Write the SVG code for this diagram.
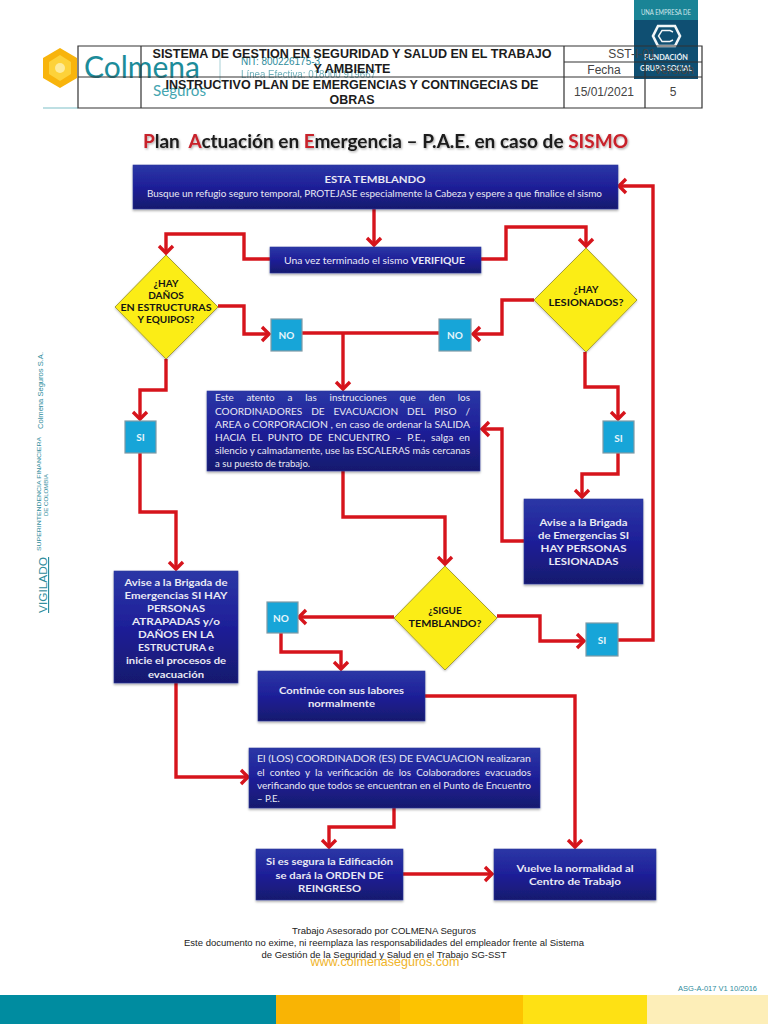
<svg xmlns="http://www.w3.org/2000/svg" width="768" height="1024" viewBox="0 0 768 1024">
<style>
text{font-family:"Lato","Liberation Sans",sans-serif}
.b{fill:url(#blue);stroke:#2b3a9c;stroke-width:.6;filter:url(#sh)}
.d{fill:#fbed12;stroke:#a8a030;stroke-width:1;filter:url(#sh2)}
.s{fill:#17a5d8;stroke:#7f9aa6;stroke-width:1.2}
.w{fill:#e9e9f4;font-size:9.6px}
.wb{fill:#e9e9f4;font-size:10px;font-weight:700;text-anchor:middle}
.k{fill:#141414;font-size:10px;font-weight:700;text-anchor:middle}
.n{fill:#e6f5fb;font-size:10px;font-weight:700;text-anchor:middle}
.c{fill:none;stroke:#d6141c;stroke-width:3.4;stroke-linejoin:miter}
.a{marker-end:url(#ah)}
.h{font-family:"Liberation Sans",sans-serif;font-weight:700;font-size:12.5px;fill:#1c1c1c;text-anchor:middle}
.l{fill:none;stroke:#333;stroke-width:1.2}
.m{font-family:"Liberation Sans",sans-serif;font-size:12px;fill:#444;text-anchor:middle}
.f{font-family:"Liberation Sans",sans-serif;font-size:9.4px;fill:#222;text-anchor:middle}
.v{font-family:"Liberation Sans",sans-serif;fill:#2e8c9c}
</style>
<defs>
<linearGradient id="blue" x1="0" y1="0" x2="0" y2="1"><stop offset="0" stop-color="#2b37a6"/><stop offset=".5" stop-color="#1e1f98"/><stop offset="1" stop-color="#17196e"/></linearGradient>
<filter id="sh" x="-5%" y="-10%" width="110%" height="125%"><feDropShadow dx="0" dy="1.5" stdDeviation="1.2" flood-color="#000" flood-opacity=".35"/></filter>
<filter id="sh2" x="-5%" y="-5%" width="110%" height="112%"><feDropShadow dx="0" dy="1" stdDeviation="1" flood-color="#000" flood-opacity=".25"/></filter>
<filter id="ts" x="-3%" y="-30%" width="106%" height="170%"><feDropShadow dx="1" dy="1.2" stdDeviation=".8" flood-color="#000" flood-opacity=".35"/></filter>
<marker id="ah" markerUnits="userSpaceOnUse" markerWidth="22" markerHeight="22" viewBox="-11 -11 22 22" refX="0" refY="0" orient="auto"><path d="M-7,-7 L0,0 L-7,7" fill="none" stroke="#d6141c" stroke-width="3.4"/></marker>
</defs>

<rect width="768" height="1024" fill="#fff"/>

<g id="badge">
<rect x="634" y="0" width="64" height="79" fill="#0f4f72"/>
<rect x="634" y="0" width="64" height="20" fill="#1a8496"/>
<text x="666" y="15" text-anchor="middle" font-size="7" fill="#cfe8ec" textLength="50" lengthAdjust="spacingAndGlyphs">UNA EMPRESA DE</text>
<path d="M658,26 L675,26 L680,36 L675,46 L658,46 L653,36 Z" fill="none" stroke="#f2f6f8" stroke-width="2.6"/>
<path d="M673,32 L670,30.500 L662,30.500 L658.500,36 L662,41.500 L670,41.500 L673,40" fill="none" stroke="#f2f6f8" stroke-width="1.4"/>
<text x="666" y="60" text-anchor="middle" font-size="7.5" font-weight="700" fill="#e8f0f4" textLength="44" lengthAdjust="spacingAndGlyphs">FUNDACIÓN</text>
<text x="666" y="71" text-anchor="middle" font-size="7.5" font-weight="700" fill="#e8f0f4" textLength="52" lengthAdjust="spacingAndGlyphs">GRUPO SOCIAL</text>
</g>

<g id="logo">
<path d="M60,48 L77,58 L77,78 L60,88 L43,78 L43,58 Z" fill="#f8b40c"/>
<path d="M60,55 L71,62 L71,74 L60,81 L49,74 L49,62 Z" fill="#fdd23a"/>
<circle cx="60" cy="68" r="5" fill="#fdeb9c"/>
<text x="84" y="78" font-size="30" fill="#1c8c9a" font-family="Lato,sans-serif" textLength="116" lengthAdjust="spacingAndGlyphs">Colmena</text>
<text x="153" y="96" font-size="16" fill="#45a5b0" textLength="53" lengthAdjust="spacingAndGlyphs">Seguros</text>
<path d="M43,108H78" stroke="#a8d4da" stroke-width="1.5"/>
<path d="M220,55V90" stroke="#a8d0d6" stroke-width="1"/>
<text x="241" y="65" class="v" font-size="10" textLength="79" lengthAdjust="spacingAndGlyphs">NIT: 800226175-3</text>
<text x="241" y="78" class="v" font-size="10" opacity=".7" textLength="135" lengthAdjust="spacingAndGlyphs">Línea Efectiva: 018000 919667</text>
</g>

<g id="header-table">
<path class="l" d="M78,46H702V108H78ZM141,46V108M564,46V108M645,62V108M564,62H702M78,77H702"/>
<text class="h" x="352" y="58" textLength="399" lengthAdjust="spacingAndGlyphs">SISTEMA DE GESTION EN SEGURIDAD Y SALUD EN EL TRABAJO</text>
<text class="h" x="352" y="73" textLength="77" lengthAdjust="spacingAndGlyphs">Y AMBIENTE</text>
<text class="h" x="352" y="89" textLength="373" lengthAdjust="spacingAndGlyphs">INSTRUCTIVO PLAN DE EMERGENCIAS Y CONTINGECIAS DE</text>
<text class="h" x="352" y="104" textLength="45" lengthAdjust="spacingAndGlyphs">OBRAS</text>
<text class="m" x="632" y="58">SST-I-01</text>
<text class="m" x="604" y="74">Fecha</text>
<text class="m" x="674" y="74" fill="#ddd">Versión</text>
<text class="m" x="604" y="96">15/01/2021</text>
<text class="m" x="673" y="96">5</text>
</g>

<g id="title" filter="url(#ts)">
<text x="143" y="148" font-size="18" font-weight="700" fill="#1a1a1a" textLength="485" lengthAdjust="spacingAndGlyphs" xml:space="preserve"><tspan fill="#c8202a">P</tspan>lan  <tspan fill="#c8202a">A</tspan>ctuación en <tspan fill="#c8202a">E</tspan>mergencia – P.A.E. en caso de <tspan fill="#c8202a">SISMO</tspan></text>
</g>

<g id="side-text">
<text class="v" font-size="7.5" transform="translate(43,429) rotate(-90)" textLength="77" lengthAdjust="spacingAndGlyphs">Colmena  Seguros  S.A.</text>
<text class="v" font-size="6.2" transform="translate(41,551) rotate(-90)" textLength="114" lengthAdjust="spacingAndGlyphs">SUPERINTENDENCIA FINANCIERA</text>
<text class="v" font-size="6.2" transform="translate(48,516) rotate(-90)" textLength="42" lengthAdjust="spacingAndGlyphs">DE COLOMBIA</text>
<text class="v" font-size="11.5" text-decoration="underline" transform="translate(47,613) rotate(-90)" textLength="56" lengthAdjust="spacingAndGlyphs">VIGILADO</text>
</g>

<g id="connectors">
<path class="c a" d="M374,209V245"/>
<path class="c a" d="M270,259H244V234H166V253"/>
<path class="c a" d="M480,259H506V227H586V246"/>
<path class="c a" d="M218,306H244V334H269"/>
<path class="c" d="M302,333H439"/>
<path class="c a" d="M343,333V389"/>
<path class="c a" d="M534,300H502V334H473"/>
<path class="c a" d="M166,359V390H140V419"/>
<path class="c a" d="M585,352V387H618V419"/>
<path class="c a" d="M618,453V474H582V497"/>
<path class="c a" d="M524,541H502V429H482"/>
<path class="c a" d="M140,453V512H176V569"/>
<path class="c a" d="M343,471V517H445V564"/>
<path class="c a" d="M394,617H299"/>
<path class="c a" d="M497,616H540V641H584"/>
<path class="c a" d="M618,640H653V186H619"/>
<path class="c a" d="M281,633V652H341V669"/>
<path class="c a" d="M425,696H575V847"/>
<path class="c a" d="M176,683V777H248"/>
<path class="c a" d="M394,808V827H329V847"/>
<path class="c a" d="M403,874H492"/>
</g>

<g id="n-temblando">
<rect class="b" x="133" y="165" width="485" height="44"/>
<text class="wb" x="375" y="183" textLength="101" lengthAdjust="spacingAndGlyphs">ESTA TEMBLANDO</text>
<text class="w" x="147" y="197" textLength="455" lengthAdjust="spacingAndGlyphs">Busque un refugio seguro temporal, PROTEJASE especialmente la Cabeza  y espere a que finalice el sismo</text>
</g>
<g id="n-verifique">
<rect class="b" x="270" y="247" width="211" height="26"/>
<text class="w" x="284" y="264" textLength="181" lengthAdjust="spacingAndGlyphs">Una vez terminado el sismo <tspan font-weight="700">VERIFIQUE</tspan></text>
</g>
<g id="d-danos">
<polygon class="d" points="166,255 218,307 166,359 115,307"/>
<text class="k" x="166" y="287">¿HAY</text>
<text class="k" x="166" y="299">DAÑOS</text>
<text class="k" x="166" y="311" textLength="91" lengthAdjust="spacingAndGlyphs">EN ESTRUCTURAS</text>
<text class="k" x="166" y="323">Y EQUIPOS?</text>
</g>
<g id="d-lesionados">
<polygon class="d" points="586,248 637,300 586,352 534,300"/>
<text class="k" x="586" y="293">¿HAY</text>
<text class="k" x="586" y="306" textLength="75" lengthAdjust="spacingAndGlyphs">LESIONADOS?</text>
</g>
<g id="n-no1"><rect class="s" x="271" y="319" width="31" height="32"/><text class="n" x="286.500" y="339">NO</text></g>
<g id="n-no2"><rect class="s" x="439" y="319" width="32" height="32"/><text class="n" x="455" y="339">NO</text></g>
<g id="n-si1"><rect class="s" x="125" y="421" width="31" height="32"/><text class="n" x="140.500" y="441">SI</text></g>
<g id="n-si2"><rect class="s" x="603" y="421" width="31" height="32"/><text class="n" x="618.500" y="442">SI</text></g>
<g id="n-instrucciones">
<rect class="b" x="207" y="391" width="273" height="80"/>
<text class="w" x="215" y="401" word-spacing="10" textLength="255" lengthAdjust="spacingAndGlyphs">Este atento a las instrucciones que den los</text>
<text class="w" x="215" y="415" word-spacing="6" textLength="255" lengthAdjust="spacingAndGlyphs">COORDINADORES DE EVACUACION DEL PISO /</text>
<text class="w" x="215" y="428" textLength="255" lengthAdjust="spacingAndGlyphs">AREA o CORPORACION , en caso de ordenar la SALIDA</text>
<text class="w" x="215" y="441" word-spacing="3" textLength="255" lengthAdjust="spacingAndGlyphs">HACIA EL PUNTO DE ENCUENTRO – P.E., salga en</text>
<text class="w" x="215" y="454" textLength="255" lengthAdjust="spacingAndGlyphs">silencio y calmadamente, use las ESCALERAS más cercanas</text>
<text class="w" x="215" y="467">a su puesto de trabajo.</text>
</g>
<g id="n-brigada-der">
<rect class="b" x="524" y="499" width="119" height="85"/>
<text class="wb" x="583.500" y="526" textLength="88" lengthAdjust="spacingAndGlyphs">Avise a la Brigada</text>
<text class="wb" x="583.500" y="539" textLength="91" lengthAdjust="spacingAndGlyphs">de Emergencias SI</text>
<text class="wb" x="583.500" y="552" textLength="86" lengthAdjust="spacingAndGlyphs">HAY PERSONAS</text>
<text class="wb" x="583.500" y="565" textLength="70" lengthAdjust="spacingAndGlyphs">LESIONADAS</text>
</g>
<g id="n-brigada-izq">
<rect class="b" x="114" y="571" width="124" height="112"/>
<text class="wb" x="176" y="586" textLength="103" lengthAdjust="spacingAndGlyphs">Avise a la Brigada de</text>
<text class="wb" x="176" y="599" textLength="103" lengthAdjust="spacingAndGlyphs">Emergencias SI HAY</text>
<text class="wb" x="176" y="612" textLength="58" lengthAdjust="spacingAndGlyphs">PERSONAS</text>
<text class="wb" x="176" y="625" textLength="88" lengthAdjust="spacingAndGlyphs">ATRAPADAS y/o</text>
<text class="wb" x="176" y="638" textLength="76" lengthAdjust="spacingAndGlyphs">DAÑOS EN LA</text>
<text class="wb" x="176" y="651" textLength="76" lengthAdjust="spacingAndGlyphs">ESTRUCTURA e</text>
<text class="wb" x="176" y="664" textLength="100" lengthAdjust="spacingAndGlyphs">inicie el procesos de</text>
<text class="wb" x="176" y="678" textLength="56" lengthAdjust="spacingAndGlyphs">evacuación</text>
</g>
<g id="n-no3"><rect class="s" x="267" y="602" width="31" height="31"/><text class="n" x="281" y="622">NO</text></g>
<g id="d-sigue">
<polygon class="d" points="445,566 497,618 445,670 394,618"/>
<text class="k" x="445" y="614">¿SIGUE</text>
<text class="k" x="445" y="627" textLength="73" lengthAdjust="spacingAndGlyphs">TEMBLANDO?</text>
</g>
<g id="n-si3"><rect class="s" x="586" y="623" width="32" height="33"/><text class="n" x="602" y="644">SI</text></g>
<g id="n-continue">
<rect class="b" x="258" y="671" width="167" height="50"/>
<text class="wb" x="341.500" y="694" textLength="125" lengthAdjust="spacingAndGlyphs">Continúe con sus labores</text>
<text class="wb" x="341.500" y="707" textLength="67" lengthAdjust="spacingAndGlyphs">normalmente</text>
</g>
<g id="n-coordinador">
<rect class="b" x="249" y="748" width="291" height="60"/>
<text class="w" x="257" y="762" textLength="274" lengthAdjust="spacingAndGlyphs">El (LOS) COORDINADOR (ES) DE EVACUACION realizaran</text>
<text class="w" x="257" y="776" word-spacing="2.500" textLength="274" lengthAdjust="spacingAndGlyphs">el conteo y la verificación de los Colaboradores evacuados</text>
<text class="w" x="257" y="789" textLength="274" lengthAdjust="spacingAndGlyphs">verificando que todos se encuentran en el Punto de Encuentro</text>
<text class="w" x="257" y="802">– P.E.</text>
</g>
<g id="n-segura">
<rect class="b" x="256" y="849" width="147" height="51"/>
<text class="wb" x="329.500" y="865" textLength="127" lengthAdjust="spacingAndGlyphs">Si es segura la Edificación</text>
<text class="wb" x="329.500" y="879" textLength="108" lengthAdjust="spacingAndGlyphs">se dará la ORDEN DE</text>
<text class="wb" x="329.500" y="892" textLength="63" lengthAdjust="spacingAndGlyphs">REINGRESO</text>
</g>
<g id="n-vuelve">
<rect class="b" x="494" y="849" width="162" height="51"/>
<text class="wb" x="575" y="872" textLength="117" lengthAdjust="spacingAndGlyphs">Vuelve la normalidad al</text>
<text class="wb" x="575" y="885" textLength="92" lengthAdjust="spacingAndGlyphs">Centro de Trabajo</text>
</g>

<g id="footer">
<text class="f" x="384" y="934" textLength="184" lengthAdjust="spacingAndGlyphs">Trabajo Asesorado por COLMENA Seguros</text>
<text class="f" x="384" y="946" textLength="400" lengthAdjust="spacingAndGlyphs">Este documento no exime, ni reemplaza las responsabilidades del empleador frente al Sistema</text>
<text class="f" x="384" y="958" textLength="245" lengthAdjust="spacingAndGlyphs">de Gestión de la Seguridad y Salud en el Trabajo SG-SST</text>
<text x="385" y="966" text-anchor="middle" font-size="13" fill="#f0b429" style="font-family:'Liberation Sans',sans-serif" textLength="149" lengthAdjust="spacingAndGlyphs">www.colmenaseguros.com</text>
<text class="v" x="678" y="991" font-size="8" textLength="79" lengthAdjust="spacingAndGlyphs">ASG-A-017 V1 10/2016</text>
<rect x="0" y="995" width="276" height="29" fill="#008ca0"/>
<rect x="276" y="995" width="124" height="29" fill="#f9b404"/>
<rect x="400" y="995" width="123" height="29" fill="#fdc300"/>
<rect x="523" y="995" width="124" height="29" fill="#fee114"/>
<rect x="647" y="995" width="121" height="29" fill="#fdeeb8"/>
</g>
</svg>
